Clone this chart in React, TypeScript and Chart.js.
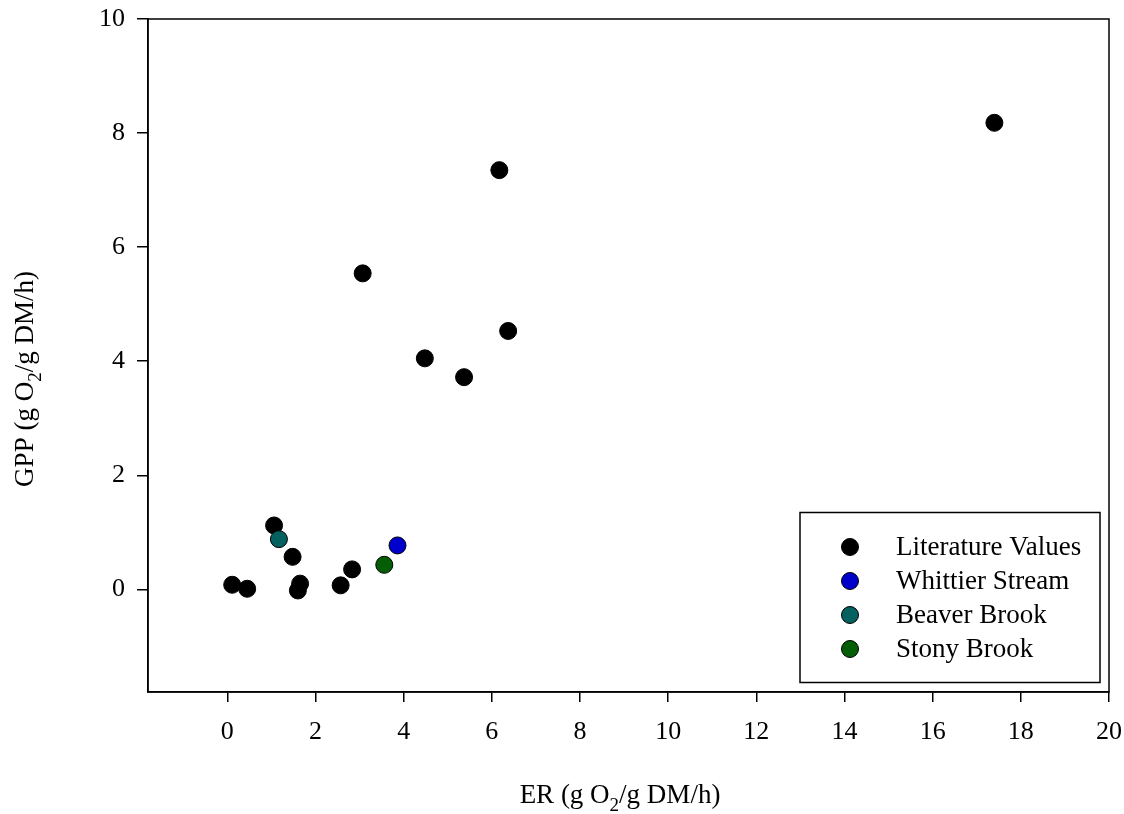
import React, { useEffect, useRef } from "react";
import { Chart, registerables } from "chart.js";

Chart.register(...registerables);

// ---- data ----
const literatureER = [17.4, 6.17, 3.07, 6.37, 4.48, 5.37, 1.06, 1.48, 0.11, 0.45, 1.6, 1.65, 2.57, 2.83];
const literatureGPP = [8.18, 7.35, 5.54, 4.53, 4.05, 3.72, 1.12, 0.57, 0.08, 0.01, -0.02, 0.1, 0.07, 0.35];
const whittierER = [3.86];
const whittierGPP = [0.77];
const beaverER = [1.17];
const beaverGPP = [0.88];
const stonyER = [3.56];
const stonyGPP = [0.43];

const seriesLabels = ["Literature Values", "Whittier Stream", "Beaver Brook", "Stony Brook"];
const seriesColors = ["#000000", "#0000cc", "#056060", "#055e05"];

const xTicks = [0, 2, 4, 6, 8, 10, 12, 14, 16, 18, 20];
const yTicks = [0, 2, 4, 6, 8, 10];

const xTitleParts = ["ER (g O", "2", "/g DM/h)"];
const yTitleParts = ["GPP (g O", "2", "/g DM/h)"];

const FONT = "'Liberation Serif', 'Times New Roman', serif";

const toPoints = (xs: number[], ys: number[]) => xs.map((x, i) => ({ x, y: ys[i] }));

function drawSubText(ctx: CanvasRenderingContext2D, parts: string[], size: number) {
  const main = `${size}px ${FONT}`;
  const sub = `${Math.round(size * 0.72)}px ${FONT}`;
  const widths = parts.map((p, i) => {
    ctx.font = i === 1 ? sub : main;
    return ctx.measureText(p).width;
  });
  const total = widths.reduce((a, b) => a + b, 0);
  let x = -total / 2;
  ctx.textAlign = "left";
  ctx.textBaseline = "alphabetic";
  parts.forEach((p, i) => {
    ctx.font = i === 1 ? sub : main;
    ctx.fillText(p, x, i === 1 ? size * 0.28 : 0);
    x += widths[i];
  });
}

const decorPlugin = {
  id: "decor",
  afterDraw(chart: any) {
    const { ctx, chartArea: a } = chart;
    ctx.save();
    // frame
    ctx.strokeStyle = "#000";
    ctx.lineWidth = 1.5;
    ctx.strokeRect(a.left, a.top, a.right - a.left, a.bottom - a.top);

    ctx.fillStyle = "#000";
    // x title
    ctx.save();
    ctx.translate(a.left + 472, a.bottom + 111);
    drawSubText(ctx, xTitleParts, 27);
    ctx.restore();
    // y title
    ctx.save();
    ctx.translate(33, a.top + 360);
    ctx.rotate(-Math.PI / 2);
    drawSubText(ctx, yTitleParts, 27);
    ctx.restore();

    // legend
    const bx = a.right - 309;
    const by = a.bottom - 179.5;
    const bw = 300;
    const bh = 170;
    ctx.fillStyle = "#fff";
    ctx.fillRect(bx, by, bw, bh);
    ctx.strokeStyle = "#000";
    ctx.lineWidth = 1.5;
    ctx.strokeRect(bx, by, bw, bh);
    chart.data.datasets.forEach((ds: any, i: number) => {
      const cy = by + 34.5 + i * 34;
      ctx.beginPath();
      ctx.arc(bx + 50, cy, 8.5, 0, Math.PI * 2);
      ctx.fillStyle = ds.backgroundColor;
      ctx.fill();
      ctx.lineWidth = 1;
      ctx.strokeStyle = "#000";
      ctx.stroke();
      ctx.fillStyle = "#000";
      ctx.font = `27px ${FONT}`;
      ctx.textAlign = "left";
      ctx.textBaseline = "middle";
      ctx.fillText(ds.label, bx + 96, cy + 1);
    });
    ctx.restore();
  },
};

export default function App() {
  const ref = useRef<HTMLCanvasElement | null>(null);

  useEffect(() => {
    document.body.style.margin = "0";
    const canvas = ref.current;
    if (!canvas) return;
    const mk = (i: number, xs: number[], ys: number[], order: number) => ({
      label: seriesLabels[i],
      data: toPoints(xs, ys),
      backgroundColor: seriesColors[i],
      borderColor: "#000",
      borderWidth: 1,
      pointRadius: 8.5,
      pointHoverRadius: 8.5,
      showLine: false,
      order,
    });
    const chart = new Chart(canvas, {
      type: "scatter",
      data: {
        datasets: [
          mk(0, literatureER, literatureGPP, 1),
          mk(1, whittierER, whittierGPP, 0),
          mk(2, beaverER, beaverGPP, 0),
          mk(3, stonyER, stonyGPP, 0),
        ],
      },
      options: {
        responsive: false,
        animation: false,
        layout: { padding: { top: 19, right: 15, left: 0, bottom: 0 } },
        plugins: {
          legend: { display: false },
          tooltip: { enabled: false },
        },
        scales: {
          x: {
            type: "linear",
            min: -1.8,
            max: 20,
            afterBuildTicks: (s: any) => {
              s.ticks = xTicks.map((v) => ({ value: v }));
            },
            afterFit: (s: any) => {
              s.height = 122;
              s.paddingLeft = 0;
              s.paddingRight = 0;
            },
            ticks: {
              color: "#000",
              font: { family: FONT, size: 26 },
              padding: 15,
              maxRotation: 0,
              autoSkip: false,
            },
            grid: {
              drawOnChartArea: false,
              drawTicks: true,
              tickLength: 10,
              color: "#000",
              lineWidth: 1.5,
            },
            border: { display: true, color: "#000", width: 1.5 },
          },
          y: {
            type: "linear",
            min: -1.8,
            max: 10,
            afterBuildTicks: (s: any) => {
              s.ticks = yTicks.map((v) => ({ value: v }));
            },
            afterFit: (s: any) => {
              s.width = 148;
              s.paddingTop = 0;
              s.paddingBottom = 0;
            },
            ticks: {
              color: "#000",
              font: { family: FONT, size: 26 },
              padding: 12,
              autoSkip: false,
            },
            grid: {
              drawOnChartArea: false,
              drawTicks: true,
              tickLength: 11,
              color: "#000",
              lineWidth: 1.5,
            },
            border: { display: true, color: "#000", width: 1.5 },
          },
        },
      },
      plugins: [decorPlugin],
    });
    return () => chart.destroy();
  }, []);

  return <canvas ref={ref} width={1124} height={814} style={{ display: "block" }} />;
}
